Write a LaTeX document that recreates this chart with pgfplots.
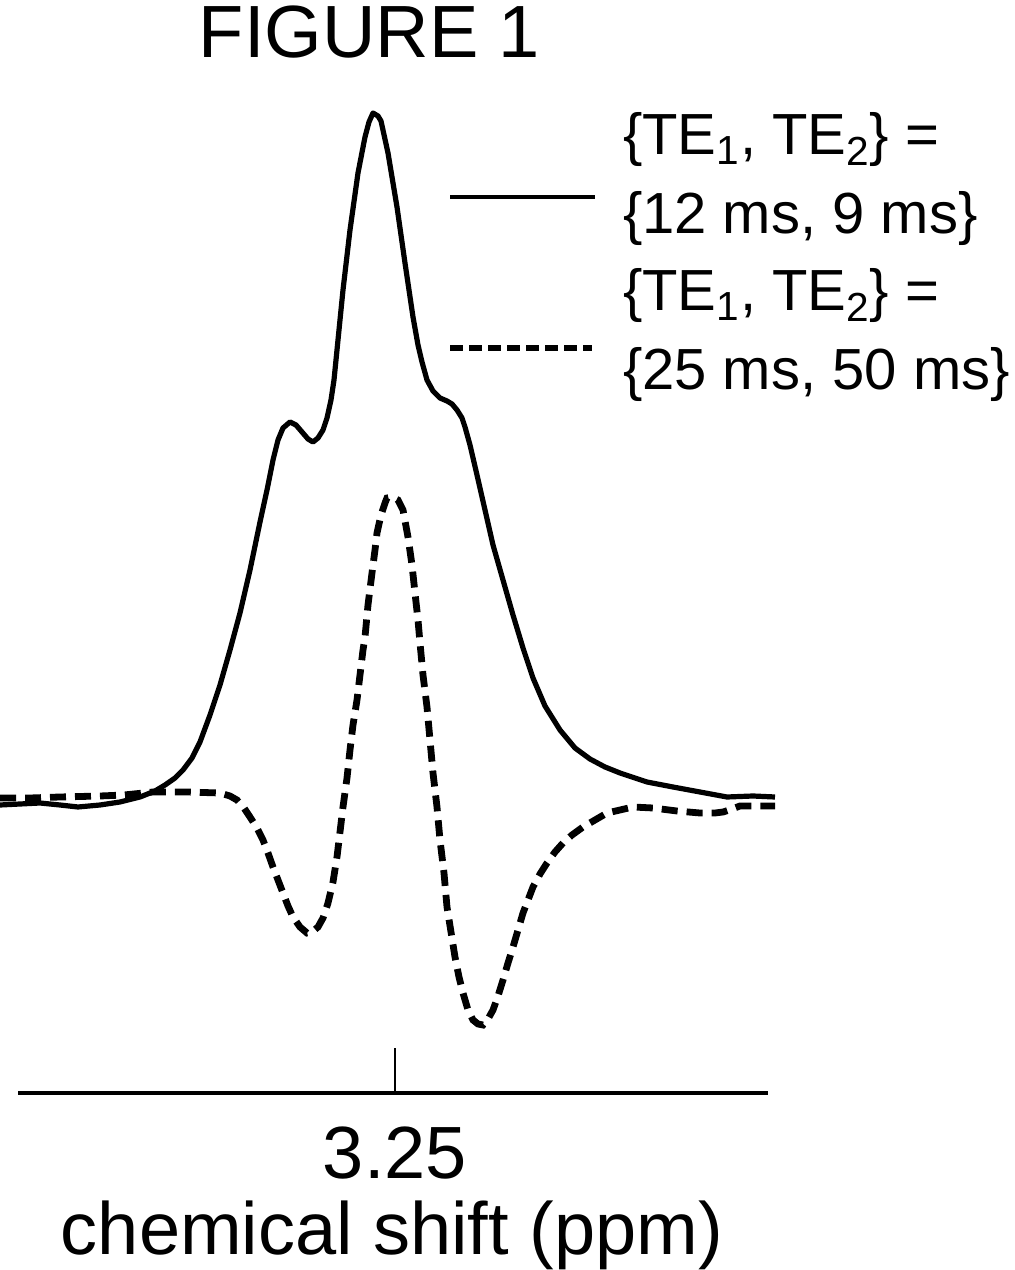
\documentclass[border=0pt]{standalone}
\usepackage{fontspec}
\setmainfont{Liberation Sans}
\usepackage{pgfplots}
\pgfplotsset{compat=1.18}

% x and y are read off the figure in pixels: x from the left edge,
% y = height above the ppm axis line (1 px = 0.5 pt)
\begin{document}
\begin{tikzpicture}
\begin{axis}[
    width=375pt, height=490pt, scale only axis,
    xmin=18, xmax=768, ymin=0, ymax=980,
    enlargelimits=false,
    clip=false,
    axis x line=bottom, axis y line=none,
    x axis line style={line width=2pt, -},
    xtick={395}, xticklabels={3.25},
    xtick align=inside,
    major tick length=22.5pt,
    xtick style={line width=0.75pt, black},
    xticklabel style={font=\fontsize{37}{40}\selectfont, anchor=base, yshift=-42.5pt},
    xlabel={chemical shift (ppm)},
    xlabel style={font=\fontsize{37}{40}\selectfont, at={(axis description cs:0.4987,-0.1653)}, anchor=base},
    title={FIGURE 1},
    title style={font=\fontsize{37}{40}\selectfont, at={(axis description cs:0.4687,1.0704)}, anchor=center},
    legend style={at={(axis cs:447,985)}, anchor=north west, draw=none, fill=none,
        inner sep=0pt, outer sep=0pt, row sep=12pt, column sep=11pt,
        font=\fontsize{29}{35.5}\selectfont,
        cells={align=left, inner sep=0pt, anchor=west}},
]

% {TE1, TE2} = {12 ms, 9 ms}
\addplot[black, line width=2.6pt, line join=round,
    legend image code/.code={\draw[line width=2pt] (0pt,-11.5pt) -- (72.5pt,-11.5pt);}]
    coordinates {
    (0,288) (20,289) (40,290) (60,288) (78,286) (100,288) (120,291) (140,296)
    (155,302) (165,308) (175,315) (183,323) (192,335) (200,351) (210,378)
    (220,408) (230,443) (240,480) (250,523) (260,571) (267,603) (273,633)
    (278,653) (283,665) (290,671) (296,668) (302,661) (308,654) (313,651)
    (318,655) (323,663) (327,675) (331,693) (334,713) (337,743) (343,803)
    (350,863) (358,920) (365,956) (369,971) (373,980) (378,977) (381,972)
    (388,940) (397,886) (405,830) (413,776) (418,748) (422,731) (427,713)
    (433,702) (440,695) (447,692) (452,689) (457,683) (462,675) (465,666)
    (470,648) (477,618) (485,583) (493,548) (503,513) (513,478) (523,445)
    (533,415) (545,387) (560,363) (575,345) (590,334) (605,326) (620,320)
    (647,311) (673,306) (700,301) (727,296) (753,297) (775,296)
    };
\addlegendentry{\{TE\textsubscript{1}, TE\textsubscript{2}\} =\\[4pt]\{12 ms, 9 ms\}}

% {TE1, TE2} = {25 ms, 50 ms}
\addplot[black, line width=3.4pt, dash pattern=on 8pt off 4.5pt,
    legend image code/.code={\draw[line width=3pt, dash pattern=on 6.5pt off 3pt] (0pt,-9pt) -- (71pt,-9pt);}]
    coordinates {
    (0,295) (30,295) (60,296) (100,297) (124,298) (153,301) (187,301)
    (220,300) (230,297) (237,293) (244,285) (250,276) (257,265) (263,253)
    (268,240) (273,226) (278,213) (283,200) (288,187) (293,176) (300,166)
    (307,160) (312,161) (318,166) (323,175) (328,190) (333,211) (337,236)
    (340,261) (343,286) (347,315) (350,343) (353,368) (357,393) (360,418)
    (363,443) (365,456) (368,488) (372,520) (375,543) (377,560) (381,578)
    (385,590) (387,595) (392,596) (398,593) (403,583) (408,556) (412,528)
    (415,500) (418,473) (420,450) (423,418) (427,386) (430,353) (433,320)
    (437,286) (440,253) (444,220) (447,186) (451,161) (455,136) (459,116)
    (463,100) (468,83) (473,73) (478,69) (483,68) (488,74) (493,83) (498,97)
    (503,113) (508,130) (513,146) (518,163) (523,180) (528,193) (533,206)
    (540,219) (547,230) (555,241) (563,250) (572,258) (583,266) (595,273)
    (607,280) (620,283) (633,286) (653,285) (677,282) (700,280) (715,280)
    (723,281) (732,284) (740,287) (757,287) (775,287)
    };
\addlegendentry{\{TE\textsubscript{1}, TE\textsubscript{2}\} =\\[4pt]\{25 ms, 50 ms\}}

\coordinate (bl) at (axis cs:0,-177);
\coordinate (tr) at (axis cs:1014,1093);
\end{axis}
\pgfresetboundingbox
\path (bl) rectangle (tr);
\end{tikzpicture}
\end{document}
